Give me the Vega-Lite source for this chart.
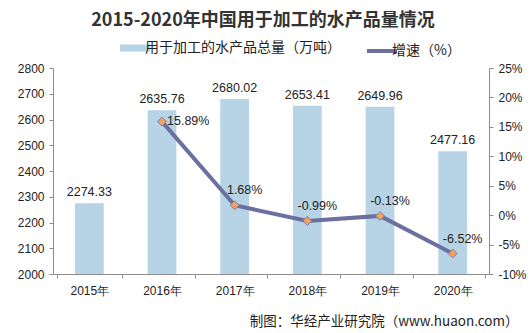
{
  "$schema": "https://vega.github.io/schema/vega-lite/v6.json",
  "autosize": {"type": "none"},
  "width": 436,
  "height": 206,
  "padding": {"left": 53, "top": 68, "right": 42, "bottom": 59},
  "background": "white",
  "title": {
    "text": "2015-2020年中国用于加工的水产品量情况",
    "font": "Noto Sans CJK SC",
    "fontSize": 18,
    "fontWeight": "bold",
    "color": "#333333",
    "anchor": "middle",
    "offset": 11,
    "dx": -8
  },
  "config": {
    "locale": {"number": {"decimal": ".", "thousands": ",", "grouping": [3], "currency": ["$", ""], "minus": "-"}},
    "view": {"stroke": null},
    "axis": {
      "labelFont": "Liberation Sans",
      "labelFontSize": 12,
      "labelColor": "#222222",
      "domainColor": "#8c8c8c",
      "tickColor": "#8c8c8c",
      "tickSize": 4,
      "labelPadding": 5,
      "labelOverlap": false,
      "grid": false
    }
  },
  "data": {
    "values": [
      {"year": "2015年", "volume": 2274.33, "growth": null},
      {"year": "2016年", "volume": 2635.76, "growth": 0.1589},
      {"year": "2017年", "volume": 2680.02, "growth": 0.0168},
      {"year": "2018年", "volume": 2653.41, "growth": -0.0099},
      {"year": "2019年", "volume": 2649.96, "growth": -0.0013},
      {"year": "2020年", "volume": 2477.16, "growth": -0.0652}
    ]
  },
  "encoding": {
    "x": {
      "field": "year",
      "type": "nominal",
      "sort": null,
      "axis": {
        "labelAngle": 0,
        "tickBand": "extent",
        "labelPadding": 7,
        "title": "制图：华经产业研究院（www.huaon.com）",
        "titleFont": "Noto Sans CJK SC",
        "titleFontSize": 13.5,
        "titleFontWeight": "normal",
        "titleColor": "#222222",
        "titleAlign": "right",
        "titleAnchor": null,
        "titleX": 465,
        "titleY": 47,
        "titleBaseline": "middle"
      }
    }
  },
  "layer": [
    {
      "encoding": {
        "y": {
          "field": "volume",
          "type": "quantitative",
          "scale": {"domain": [2000, 2800], "zero": false, "nice": false},
          "axis": {"values": [2000, 2100, 2200, 2300, 2400, 2500, 2600, 2700, 2800], "tickCount": 9, "title": null, "format": "d"}
        }
      },
      "layer": [
        {
          "mark": {"type": "bar", "width": {"band": 0.44}, "clip": true},
          "encoding": {
            "color": {
              "datum": "用于加工的水产品总量（万吨）",
              "scale": {
                "domain": ["用于加工的水产品总量（万吨）", "增速（%）"],
                "range": ["#b7d3e6", "#6b709e"]
              },
              "legend": {
                "orient": "none",
                "direction": "horizontal",
                "legendX": 75,
                "legendY": -27,
                "title": null,
                "symbolType": "stroke",
                "symbolSize": 900,
                "symbolStrokeWidth": 6,
                "labelFont": "Noto Sans CJK SC",
                "labelFontSize": 14,
                "labelColor": "#222222",
                "labelOffset": 3,
                "labelLimit": 400,
                "columnPadding": 18,
                "encode": {
                  "symbols": {
                    "update": {
                      "fill": {"value": "transparent"},
                      "stroke": {"scale": "color", "field": "value"},
                      "strokeWidth": {"signal": "datum.value == '增速（%）' ? 4 : 7"}
                    }
                  }
                }
              }
            }
          }
        },
        {
          "mark": {"type": "text", "baseline": "bottom", "dy": -4, "font": "Liberation Sans", "fontSize": 12.5, "color": "#222222"},
          "encoding": {
            "text": {"field": "volume", "type": "quantitative", "format": ".2f"}
          }
        }
      ]
    },
    {
      "transform": [{"filter": "datum.growth != null"}],
      "encoding": {
        "y": {
          "field": "growth",
          "type": "quantitative",
          "scale": {"domain": [-0.1, 0.25], "nice": false, "zero": false},
          "axis": {"orient": "right", "values": [-0.1, -0.05, 0, 0.05, 0.1, 0.15, 0.2, 0.25], "tickCount": 8, "format": ".0%", "title": null}
        }
      },
      "layer": [
        {
          "mark": {"type": "line", "strokeWidth": 4},
          "encoding": {
            "color": {"datum": "增速（%）"}
          }
        },
        {
          "mark": {"type": "point", "shape": "diamond", "filled": true, "size": 80, "fill": "#f2a262", "stroke": "#7a7ea8", "strokeWidth": 1, "opacity": 1}
        },
        {
          "transform": [{"filter": "datum.year == '2016年'"}],
          "mark": {"type": "text", "align": "left", "dx": 5, "dy": -1, "font": "Liberation Sans", "fontSize": 12.5, "color": "#222222"},
          "encoding": {
            "text": {"field": "growth", "type": "quantitative", "format": ".2%"}
          }
        },
        {
          "transform": [{"filter": "datum.year != '2016年'"}],
          "mark": {"type": "text", "align": "center", "baseline": "bottom", "dx": 10, "dy": -8, "font": "Liberation Sans", "fontSize": 12.5, "color": "#222222"},
          "encoding": {
            "text": {"field": "growth", "type": "quantitative", "format": ".2%"}
          }
        }
      ]
    }
  ],
  "resolve": {"scale": {"y": "independent"}}
}
